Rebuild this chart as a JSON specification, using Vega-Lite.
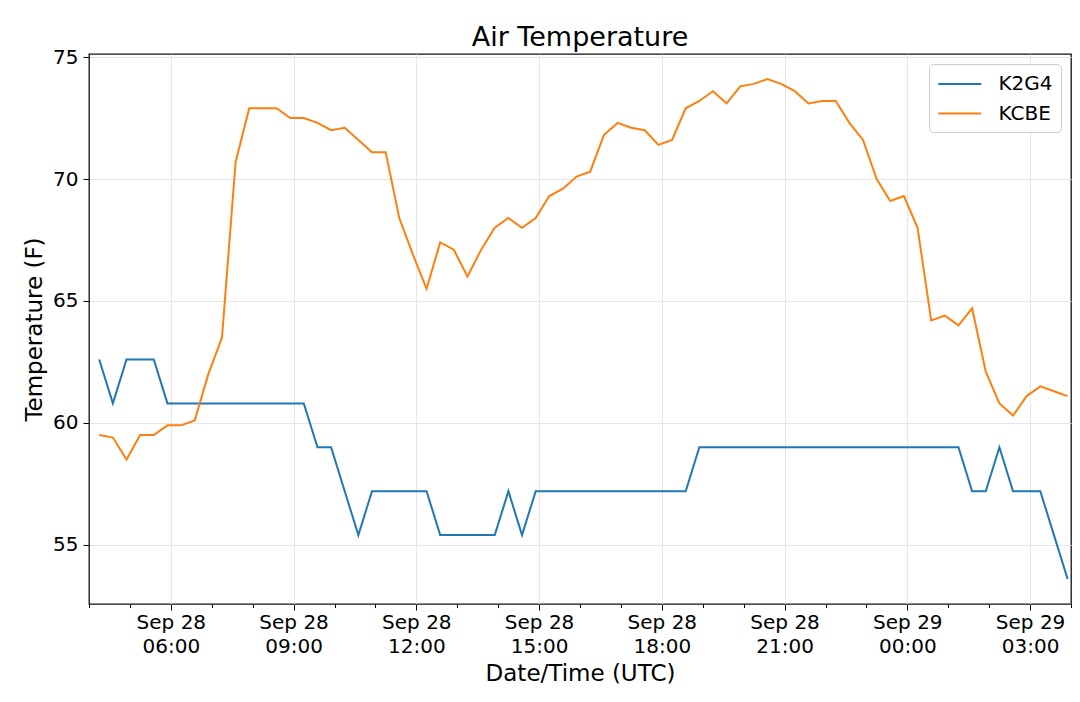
{
  "$schema": "https://vega.github.io/schema/vega-lite/v6.json",
  "title": {
    "text": "Air Temperature",
    "font": "DejaVu Sans",
    "fontSize": 27,
    "fontWeight": "normal",
    "color": "black",
    "anchor": "middle",
    "baseline": "alphabetic",
    "offset": 9,
    "dy": 35
  },
  "autosize": "none",
  "width": 982,
  "height": 550,
  "padding": {"left": 89, "top": 54, "right": 9, "bottom": 98},
  "background": "white",
  "data": {
    "values": [
      {"t": "2019-09-28T04:15:00Z", "station": "K2G4", "temp": 62.6},
      {"t": "2019-09-28T04:35:00Z", "station": "K2G4", "temp": 60.8},
      {"t": "2019-09-28T04:55:00Z", "station": "K2G4", "temp": 62.6},
      {"t": "2019-09-28T05:15:00Z", "station": "K2G4", "temp": 62.6},
      {"t": "2019-09-28T05:35:00Z", "station": "K2G4", "temp": 62.6},
      {"t": "2019-09-28T05:55:00Z", "station": "K2G4", "temp": 60.8},
      {"t": "2019-09-28T06:15:00Z", "station": "K2G4", "temp": 60.8},
      {"t": "2019-09-28T06:35:00Z", "station": "K2G4", "temp": 60.8},
      {"t": "2019-09-28T06:55:00Z", "station": "K2G4", "temp": 60.8},
      {"t": "2019-09-28T07:15:00Z", "station": "K2G4", "temp": 60.8},
      {"t": "2019-09-28T07:35:00Z", "station": "K2G4", "temp": 60.8},
      {"t": "2019-09-28T07:55:00Z", "station": "K2G4", "temp": 60.8},
      {"t": "2019-09-28T08:15:00Z", "station": "K2G4", "temp": 60.8},
      {"t": "2019-09-28T08:35:00Z", "station": "K2G4", "temp": 60.8},
      {"t": "2019-09-28T08:55:00Z", "station": "K2G4", "temp": 60.8},
      {"t": "2019-09-28T09:15:00Z", "station": "K2G4", "temp": 60.8},
      {"t": "2019-09-28T09:35:00Z", "station": "K2G4", "temp": 59.0},
      {"t": "2019-09-28T09:55:00Z", "station": "K2G4", "temp": 59.0},
      {"t": "2019-09-28T10:15:00Z", "station": "K2G4", "temp": 57.2},
      {"t": "2019-09-28T10:35:00Z", "station": "K2G4", "temp": 55.4},
      {"t": "2019-09-28T10:55:00Z", "station": "K2G4", "temp": 57.2},
      {"t": "2019-09-28T11:15:00Z", "station": "K2G4", "temp": 57.2},
      {"t": "2019-09-28T11:35:00Z", "station": "K2G4", "temp": 57.2},
      {"t": "2019-09-28T11:55:00Z", "station": "K2G4", "temp": 57.2},
      {"t": "2019-09-28T12:15:00Z", "station": "K2G4", "temp": 57.2},
      {"t": "2019-09-28T12:35:00Z", "station": "K2G4", "temp": 55.4},
      {"t": "2019-09-28T12:55:00Z", "station": "K2G4", "temp": 55.4},
      {"t": "2019-09-28T13:15:00Z", "station": "K2G4", "temp": 55.4},
      {"t": "2019-09-28T13:35:00Z", "station": "K2G4", "temp": 55.4},
      {"t": "2019-09-28T13:55:00Z", "station": "K2G4", "temp": 55.4},
      {"t": "2019-09-28T14:15:00Z", "station": "K2G4", "temp": 57.2},
      {"t": "2019-09-28T14:35:00Z", "station": "K2G4", "temp": 55.4},
      {"t": "2019-09-28T14:55:00Z", "station": "K2G4", "temp": 57.2},
      {"t": "2019-09-28T15:15:00Z", "station": "K2G4", "temp": 57.2},
      {"t": "2019-09-28T15:35:00Z", "station": "K2G4", "temp": 57.2},
      {"t": "2019-09-28T15:55:00Z", "station": "K2G4", "temp": 57.2},
      {"t": "2019-09-28T16:15:00Z", "station": "K2G4", "temp": 57.2},
      {"t": "2019-09-28T16:35:00Z", "station": "K2G4", "temp": 57.2},
      {"t": "2019-09-28T16:55:00Z", "station": "K2G4", "temp": 57.2},
      {"t": "2019-09-28T17:15:00Z", "station": "K2G4", "temp": 57.2},
      {"t": "2019-09-28T17:35:00Z", "station": "K2G4", "temp": 57.2},
      {"t": "2019-09-28T17:55:00Z", "station": "K2G4", "temp": 57.2},
      {"t": "2019-09-28T18:15:00Z", "station": "K2G4", "temp": 57.2},
      {"t": "2019-09-28T18:35:00Z", "station": "K2G4", "temp": 57.2},
      {"t": "2019-09-28T18:55:00Z", "station": "K2G4", "temp": 59.0},
      {"t": "2019-09-28T19:15:00Z", "station": "K2G4", "temp": 59.0},
      {"t": "2019-09-28T19:35:00Z", "station": "K2G4", "temp": 59.0},
      {"t": "2019-09-28T19:55:00Z", "station": "K2G4", "temp": 59.0},
      {"t": "2019-09-28T20:15:00Z", "station": "K2G4", "temp": 59.0},
      {"t": "2019-09-28T20:35:00Z", "station": "K2G4", "temp": 59.0},
      {"t": "2019-09-28T20:55:00Z", "station": "K2G4", "temp": 59.0},
      {"t": "2019-09-28T21:15:00Z", "station": "K2G4", "temp": 59.0},
      {"t": "2019-09-28T21:35:00Z", "station": "K2G4", "temp": 59.0},
      {"t": "2019-09-28T21:55:00Z", "station": "K2G4", "temp": 59.0},
      {"t": "2019-09-28T22:15:00Z", "station": "K2G4", "temp": 59.0},
      {"t": "2019-09-28T22:35:00Z", "station": "K2G4", "temp": 59.0},
      {"t": "2019-09-28T22:55:00Z", "station": "K2G4", "temp": 59.0},
      {"t": "2019-09-28T23:15:00Z", "station": "K2G4", "temp": 59.0},
      {"t": "2019-09-28T23:35:00Z", "station": "K2G4", "temp": 59.0},
      {"t": "2019-09-28T23:55:00Z", "station": "K2G4", "temp": 59.0},
      {"t": "2019-09-29T00:15:00Z", "station": "K2G4", "temp": 59.0},
      {"t": "2019-09-29T00:35:00Z", "station": "K2G4", "temp": 59.0},
      {"t": "2019-09-29T00:55:00Z", "station": "K2G4", "temp": 59.0},
      {"t": "2019-09-29T01:15:00Z", "station": "K2G4", "temp": 59.0},
      {"t": "2019-09-29T01:35:00Z", "station": "K2G4", "temp": 57.2},
      {"t": "2019-09-29T01:55:00Z", "station": "K2G4", "temp": 57.2},
      {"t": "2019-09-29T02:15:00Z", "station": "K2G4", "temp": 59.0},
      {"t": "2019-09-29T02:35:00Z", "station": "K2G4", "temp": 57.2},
      {"t": "2019-09-29T02:55:00Z", "station": "K2G4", "temp": 57.2},
      {"t": "2019-09-29T03:15:00Z", "station": "K2G4", "temp": 57.2},
      {"t": "2019-09-29T03:35:00Z", "station": "K2G4", "temp": 55.4},
      {"t": "2019-09-29T03:55:00Z", "station": "K2G4", "temp": 53.6},
      {"t": "2019-09-28T04:15:00Z", "station": "KCBE", "temp": 59.5},
      {"t": "2019-09-28T04:35:00Z", "station": "KCBE", "temp": 59.4},
      {"t": "2019-09-28T04:55:00Z", "station": "KCBE", "temp": 58.5},
      {"t": "2019-09-28T05:15:00Z", "station": "KCBE", "temp": 59.5},
      {"t": "2019-09-28T05:35:00Z", "station": "KCBE", "temp": 59.5},
      {"t": "2019-09-28T05:55:00Z", "station": "KCBE", "temp": 59.9},
      {"t": "2019-09-28T06:15:00Z", "station": "KCBE", "temp": 59.9},
      {"t": "2019-09-28T06:35:00Z", "station": "KCBE", "temp": 60.1},
      {"t": "2019-09-28T06:55:00Z", "station": "KCBE", "temp": 62.0},
      {"t": "2019-09-28T07:15:00Z", "station": "KCBE", "temp": 63.5},
      {"t": "2019-09-28T07:35:00Z", "station": "KCBE", "temp": 70.7},
      {"t": "2019-09-28T07:55:00Z", "station": "KCBE", "temp": 72.9},
      {"t": "2019-09-28T08:15:00Z", "station": "KCBE", "temp": 72.9},
      {"t": "2019-09-28T08:35:00Z", "station": "KCBE", "temp": 72.9},
      {"t": "2019-09-28T08:55:00Z", "station": "KCBE", "temp": 72.5},
      {"t": "2019-09-28T09:15:00Z", "station": "KCBE", "temp": 72.5},
      {"t": "2019-09-28T09:35:00Z", "station": "KCBE", "temp": 72.3},
      {"t": "2019-09-28T09:55:00Z", "station": "KCBE", "temp": 72.0},
      {"t": "2019-09-28T10:15:00Z", "station": "KCBE", "temp": 72.1},
      {"t": "2019-09-28T10:35:00Z", "station": "KCBE", "temp": 71.6},
      {"t": "2019-09-28T10:55:00Z", "station": "KCBE", "temp": 71.1},
      {"t": "2019-09-28T11:15:00Z", "station": "KCBE", "temp": 71.1},
      {"t": "2019-09-28T11:35:00Z", "station": "KCBE", "temp": 68.4},
      {"t": "2019-09-28T11:55:00Z", "station": "KCBE", "temp": 66.9},
      {"t": "2019-09-28T12:15:00Z", "station": "KCBE", "temp": 65.5},
      {"t": "2019-09-28T12:35:00Z", "station": "KCBE", "temp": 67.4},
      {"t": "2019-09-28T12:55:00Z", "station": "KCBE", "temp": 67.1},
      {"t": "2019-09-28T13:15:00Z", "station": "KCBE", "temp": 66.0},
      {"t": "2019-09-28T13:35:00Z", "station": "KCBE", "temp": 67.1},
      {"t": "2019-09-28T13:55:00Z", "station": "KCBE", "temp": 68.0},
      {"t": "2019-09-28T14:15:00Z", "station": "KCBE", "temp": 68.4},
      {"t": "2019-09-28T14:35:00Z", "station": "KCBE", "temp": 68.0},
      {"t": "2019-09-28T14:55:00Z", "station": "KCBE", "temp": 68.4},
      {"t": "2019-09-28T15:15:00Z", "station": "KCBE", "temp": 69.3},
      {"t": "2019-09-28T15:35:00Z", "station": "KCBE", "temp": 69.6},
      {"t": "2019-09-28T15:55:00Z", "station": "KCBE", "temp": 70.1},
      {"t": "2019-09-28T16:15:00Z", "station": "KCBE", "temp": 70.3},
      {"t": "2019-09-28T16:35:00Z", "station": "KCBE", "temp": 71.8},
      {"t": "2019-09-28T16:55:00Z", "station": "KCBE", "temp": 72.3},
      {"t": "2019-09-28T17:15:00Z", "station": "KCBE", "temp": 72.1},
      {"t": "2019-09-28T17:35:00Z", "station": "KCBE", "temp": 72.0},
      {"t": "2019-09-28T17:55:00Z", "station": "KCBE", "temp": 71.4},
      {"t": "2019-09-28T18:15:00Z", "station": "KCBE", "temp": 71.6},
      {"t": "2019-09-28T18:35:00Z", "station": "KCBE", "temp": 72.9},
      {"t": "2019-09-28T18:55:00Z", "station": "KCBE", "temp": 73.2},
      {"t": "2019-09-28T19:15:00Z", "station": "KCBE", "temp": 73.6},
      {"t": "2019-09-28T19:35:00Z", "station": "KCBE", "temp": 73.1},
      {"t": "2019-09-28T19:55:00Z", "station": "KCBE", "temp": 73.8},
      {"t": "2019-09-28T20:15:00Z", "station": "KCBE", "temp": 73.9},
      {"t": "2019-09-28T20:35:00Z", "station": "KCBE", "temp": 74.1},
      {"t": "2019-09-28T20:55:00Z", "station": "KCBE", "temp": 73.9},
      {"t": "2019-09-28T21:15:00Z", "station": "KCBE", "temp": 73.6},
      {"t": "2019-09-28T21:35:00Z", "station": "KCBE", "temp": 73.1},
      {"t": "2019-09-28T21:55:00Z", "station": "KCBE", "temp": 73.2},
      {"t": "2019-09-28T22:15:00Z", "station": "KCBE", "temp": 73.2},
      {"t": "2019-09-28T22:35:00Z", "station": "KCBE", "temp": 72.3},
      {"t": "2019-09-28T22:55:00Z", "station": "KCBE", "temp": 71.6},
      {"t": "2019-09-28T23:15:00Z", "station": "KCBE", "temp": 70.0},
      {"t": "2019-09-28T23:35:00Z", "station": "KCBE", "temp": 69.1},
      {"t": "2019-09-28T23:55:00Z", "station": "KCBE", "temp": 69.3},
      {"t": "2019-09-29T00:15:00Z", "station": "KCBE", "temp": 68.0},
      {"t": "2019-09-29T00:35:00Z", "station": "KCBE", "temp": 64.2},
      {"t": "2019-09-29T00:55:00Z", "station": "KCBE", "temp": 64.4},
      {"t": "2019-09-29T01:15:00Z", "station": "KCBE", "temp": 64.0},
      {"t": "2019-09-29T01:35:00Z", "station": "KCBE", "temp": 64.7},
      {"t": "2019-09-29T01:55:00Z", "station": "KCBE", "temp": 62.1},
      {"t": "2019-09-29T02:15:00Z", "station": "KCBE", "temp": 60.8},
      {"t": "2019-09-29T02:35:00Z", "station": "KCBE", "temp": 60.3},
      {"t": "2019-09-29T02:55:00Z", "station": "KCBE", "temp": 61.1},
      {"t": "2019-09-29T03:15:00Z", "station": "KCBE", "temp": 61.5},
      {"t": "2019-09-29T03:35:00Z", "station": "KCBE", "temp": 61.3},
      {"t": "2019-09-29T03:55:00Z", "station": "KCBE", "temp": 61.1}
    ]
  },
  "layer": [
    {
      "mark": {"type": "line", "strokeOpacity": 0},
      "encoding": {
        "x": {
          "field": "t",
          "type": "temporal",
          "scale": {"type": "utc"},
          "axis": {
            "orient": "bottom",
            "values": [
              {"year": 2019, "month": 9, "date": 28, "hours": 4, "utc": true},
              {"year": 2019, "month": 9, "date": 28, "hours": 5, "utc": true},
              {"year": 2019, "month": 9, "date": 28, "hours": 7, "utc": true},
              {"year": 2019, "month": 9, "date": 28, "hours": 8, "utc": true},
              {"year": 2019, "month": 9, "date": 28, "hours": 10, "utc": true},
              {"year": 2019, "month": 9, "date": 28, "hours": 11, "utc": true},
              {"year": 2019, "month": 9, "date": 28, "hours": 13, "utc": true},
              {"year": 2019, "month": 9, "date": 28, "hours": 14, "utc": true},
              {"year": 2019, "month": 9, "date": 28, "hours": 16, "utc": true},
              {"year": 2019, "month": 9, "date": 28, "hours": 17, "utc": true},
              {"year": 2019, "month": 9, "date": 28, "hours": 19, "utc": true},
              {"year": 2019, "month": 9, "date": 28, "hours": 20, "utc": true},
              {"year": 2019, "month": 9, "date": 28, "hours": 22, "utc": true},
              {"year": 2019, "month": 9, "date": 28, "hours": 23, "utc": true},
              {"year": 2019, "month": 9, "date": 29, "hours": 1, "utc": true},
              {"year": 2019, "month": 9, "date": 29, "hours": 2, "utc": true},
              {"year": 2019, "month": 9, "date": 29, "hours": 4, "utc": true}
            ],
            "labels": false,
            "grid": false,
            "tickSize": 3.5,
            "title": null
          }
        },
        "y": {"field": "temp", "type": "quantitative"},
        "detail": {"field": "station"}
      }
    },
    {
      "mark": {"type": "line", "strokeWidth": 2, "clip": true},
      "encoding": {
        "x": {
          "field": "t",
          "type": "temporal",
          "title": "Date/Time (UTC)",
          "scale": {
            "type": "utc",
            "domain": [
              {"year": 2019, "month": 9, "date": 28, "hours": 4, "utc": true},
              {"year": 2019, "month": 9, "date": 29, "hours": 4, "utc": true}
            ]
          },
          "axis": {
            "orient": "bottom",
            "grid": true,
            "values": [
              {"year": 2019, "month": 9, "date": 28, "hours": 6, "utc": true},
              {"year": 2019, "month": 9, "date": 28, "hours": 9, "utc": true},
              {"year": 2019, "month": 9, "date": 28, "hours": 12, "utc": true},
              {"year": 2019, "month": 9, "date": 28, "hours": 15, "utc": true},
              {"year": 2019, "month": 9, "date": 28, "hours": 18, "utc": true},
              {"year": 2019, "month": 9, "date": 28, "hours": 21, "utc": true},
              {"year": 2019, "month": 9, "date": 29, "hours": 0, "utc": true},
              {"year": 2019, "month": 9, "date": 29, "hours": 3, "utc": true}
            ],
            "labelExpr": "[utcFormat(datum.value, '%b %d'), utcFormat(datum.value, '%H:%M')]",
            "labelOverlap": false,
            "labelBound": false,
            "labelFlush": false,
            "labelBaseline": "top",
            "labelLineHeight": 24,
            "labelPadding": 2,
            "tickSize": 6,
            "titleX": 491,
            "titleY": 76,
            "titleBaseline": "alphabetic",
            "titleAlign": "center"
          }
        },
        "y": {
          "field": "temp",
          "type": "quantitative",
          "title": "Temperature (F)",
          "scale": {"domain": [52.575, 75.125], "nice": false, "zero": false},
          "axis": {
            "values": [55, 60, 65, 70, 75],
            "tickSize": 6,
            "labelPadding": 5,
            "titleX": -48,
            "titleY": 275,
            "titleBaseline": "alphabetic",
            "titleAlign": "center",
            "titleAngle": -90
          }
        },
        "color": {
          "field": "station",
          "type": "nominal",
          "scale": {"domain": ["K2G4", "KCBE"], "range": ["#1f77b4", "#ff7f0e"]},
          "legend": {
            "title": null,
            "orient": "top-right",
            "offset": 10,
            "padding": 8,
            "fillColor": "rgba(255,255,255,0.8)",
            "strokeColor": "#cccccc",
            "cornerRadius": 4,
            "symbolType": "M-2,0H2",
            "symbolSize": 462,
            "symbolStrokeWidth": 2,
            "symbolOffset": 10.75,
            "labelOffset": 26.75,
            "rowPadding": 7.5,
            "labelFontSize": 20,
            "labelFont": "DejaVu Sans",
            "labelColor": "black"
          }
        }
      }
    }
  ],
  "resolve": {"axis": {"x": "independent"}},
  "config": {
    "font": "DejaVu Sans",
    "view": {"stroke": "#111111", "strokeWidth": 1.3},
    "axis": {
      "domain": false,
      "grid": true,
      "gridColor": "#e6e6e6",
      "gridWidth": 1,
      "tickColor": "black",
      "tickWidth": 1,
      "labelFont": "DejaVu Sans",
      "labelFontSize": 20,
      "labelColor": "black",
      "titleFont": "DejaVu Sans",
      "titleFontSize": 23,
      "titleFontWeight": "normal",
      "titleColor": "black"
    }
  }
}
